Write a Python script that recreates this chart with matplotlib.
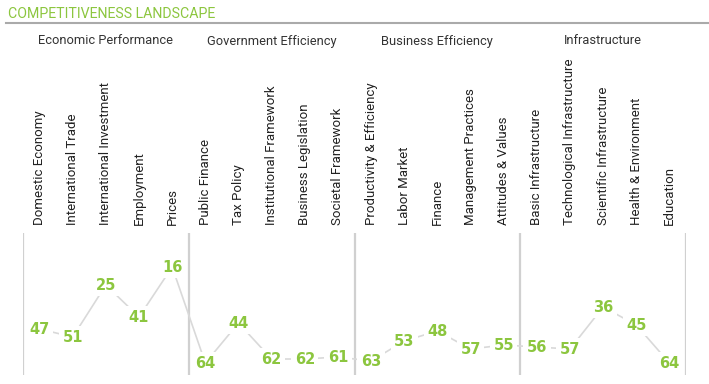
import matplotlib
matplotlib.use("Agg")
import matplotlib.pyplot as plt
import matplotlib.transforms as transforms
from matplotlib.lines import Line2D

groups = ['Economic Performance', 'Government Efficiency', 'Business Efficiency', 'Infrastructure']
factors = ['Domestic Economy', 'International Trade', 'International Investment', 'Employment', 'Prices',
           'Public Finance', 'Tax Policy', 'Institutional Framework', 'Business Legislation', 'Societal Framework',
           'Productivity & Efficiency', 'Labor Market', 'Finance', 'Management Practices', 'Attitudes & Values',
           'Basic Infrastructure', 'Technological Infrastructure', 'Scientific Infrastructure',
           'Health & Environment', 'Education']
ranks = [47, 51, 25, 41, 16,
         64, 44, 62, 62, 61,
         63, 53, 48, 57, 55,
         56, 57, 36, 45, 64]

green = '#8cc63f'
W, H = 709, 384
plt.rcParams['font.family'] = ['Roboto', 'DejaVu Sans']

fig = plt.figure(figsize=(W / 100, H / 100), dpi=100)
ax = fig.add_axes([23 / W, 9 / H, 663 / W, 142 / H])

x = list(range(len(factors)))
ax.plot(x, ranks, color='#d9d9d9', lw=1.2, zorder=1)
for xi, r in zip(x, ranks):
    ax.text(xi, r, str(r), ha='center', va='center', fontsize=10.5, fontweight='bold',
            color=green, zorder=3, clip_on=False, family='DejaVu Sans',
            bbox=dict(facecolor='white', edgecolor='none', pad=2.5))

ax.set_xlim(-0.5, len(factors) - 0.5)
ax.set_ylim(70, -1)
for g in range(len(groups) + 1):
    ax.axvline(g * 5 - 0.5, color='#d0d0d0', lw=1.6, zorder=0)

ax.xaxis.tick_top()
ax.set_xticks(x)
ax.set_xticklabels(factors, rotation=90, fontsize=9.5, color='#222222')
ax.tick_params(axis='x', length=0, pad=6)
ax.set_yticks([])
for s in ax.spines.values():
    s.set_visible(False)

trans = transforms.blended_transform_factory(ax.transData, fig.transFigure)
for i, g in enumerate(groups):
    ax.text(i * 5 + 2, 1 - 41 / H, g, transform=trans, ha='center', va='center',
            fontsize=9.3, color='#333333')

fig.text(8 / W, 1 - 14 / H, 'COMPETITIVENESS LANDSCAPE', ha='left', va='center',
         fontsize=10.2, color=green)
fig.add_artist(Line2D([6 / W, 1], [1 - 23 / H, 1 - 23 / H], transform=fig.transFigure,
                      color='#aaaaaa', lw=1.5))

fig.savefig('out.png', dpi=100)
